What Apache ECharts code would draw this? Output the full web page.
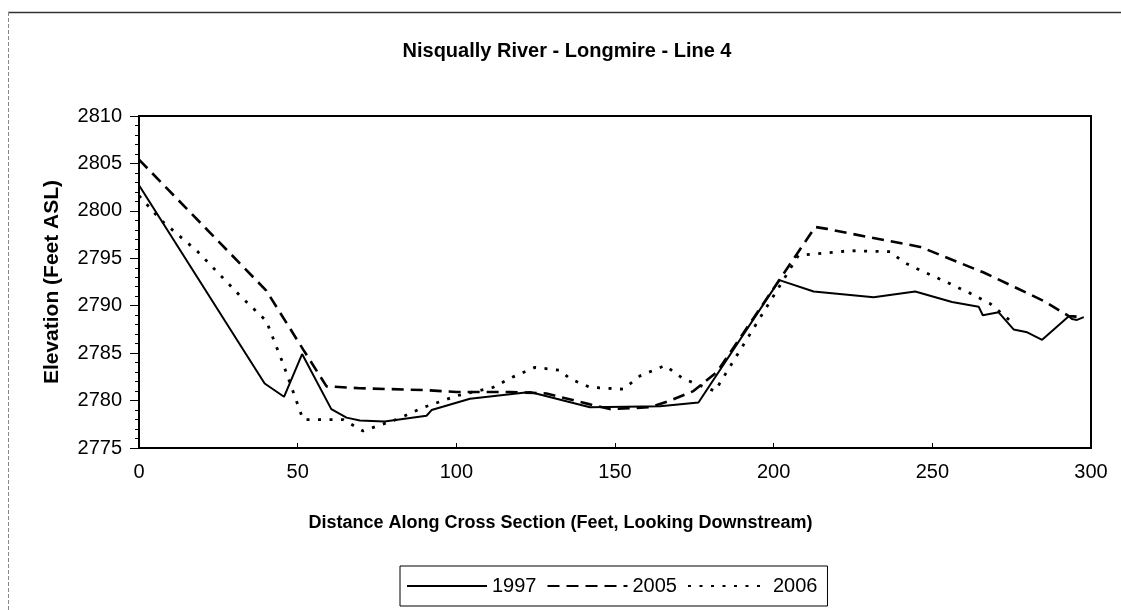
<!DOCTYPE html>
<html>
<head>
<meta charset="utf-8">
<script src="https://cdn.jsdelivr.net/npm/echarts@6/dist/echarts.min.js"></script>
<style>
html,body{margin:0;padding:0;background:#fff;}
#chart{width:1121px;height:610px;}
</style>
</head>
<body>
<div id="chart"></div>
<script>
const title = 'Nisqually River - Longmire - Line 4';
const xAxisName = 'Distance Along Cross Section (Feet, Looking Downstream)';
const yAxisName = 'Elevation (Feet ASL)';
const seriesNames = ['1997', '2005', '2006'];

const x1997 = [0, 30.7, 39.6, 45.7, 51.4, 60.6, 65.4, 69.6, 77.4, 90.6, 92.2, 104.3, 123.2, 142.1, 164.2, 176.3, 201.8, 212.6, 231.5, 244.6, 256.2, 264.6, 265.9, 270.9, 275.6, 279.9, 284.6, 293.0, 294.0, 295.6, 297.7];
const y1997 = [2802.7, 2786.5, 2781.8, 2780.4, 2784.9, 2779.1, 2778.2, 2777.9, 2777.8, 2778.4, 2779.0, 2780.2, 2780.9, 2779.3, 2779.4, 2779.8, 2792.7, 2791.5, 2790.9, 2791.5, 2790.4, 2789.9, 2789.0, 2789.3, 2787.5, 2787.2, 2786.4, 2788.9, 2788.6, 2788.5, 2788.8];

const x2005 = [0, 40.1, 51.7, 59.1, 69.6, 90.6, 100.1, 116.9, 128.4, 142.1, 148.4, 161.0, 167.4, 174.7, 182.1, 213.1, 216.8, 230.4, 246.2, 266.2, 285.1, 293.0, 297.7];
const y2005 = [2805.4, 2791.6, 2785.4, 2781.5, 2781.3, 2781.1, 2780.9, 2780.9, 2780.75, 2779.6, 2779.1, 2779.3, 2780.0, 2781.0, 2783.0, 2798.3, 2798.1, 2797.2, 2796.2, 2793.5, 2790.5, 2788.9, 2788.8];

const x2006 = [0, 7.0, 18.5, 31.7, 40.1, 45.4, 51.7, 64.3, 70.6, 81.1, 89.0, 100.1, 111.6, 117.9, 124.8, 132.6, 135.8, 142.1, 152.6, 157.9, 165.8, 171.5, 176.8, 181.5, 207.8, 224.1, 236.7, 240.9, 245.2, 255.7, 262.0, 268.3, 274.6];
const y2006 = [2801.6, 2799.0, 2795.7, 2791.1, 2788.4, 2783.9, 2778.0, 2778.0, 2776.8, 2778.0, 2779.2, 2780.5, 2781.4, 2782.5, 2783.5, 2783.2, 2782.3, 2781.4, 2781.2, 2782.6, 2783.7, 2782.3, 2781.6, 2781.0, 2795.3, 2795.8, 2795.7, 2794.6, 2793.9, 2792.3, 2791.3, 2790.2, 2788.4];

const xMin = 0, xMax = 300, xStep = 50;
const yMin = 2775, yMax = 2810, yStep = 5;

function zip(xs, ys) { return xs.map((x, i) => [x, ys[i]]); }

const font = '"Liberation Sans", Arial, sans-serif';
const chart = echarts.init(document.getElementById('chart'), null, {renderer: 'canvas'});

const lineStyles = [
  {color: '#000', width: 2, type: 'solid'},
  {color: '#000', width: 2.6, type: [12, 7]},
  {color: '#000', width: 2.8, type: [3, 8.5]}
];
const dataSets = [zip(x1997, y1997), zip(x2005, y2005), zip(x2006, y2006)];

chart.setOption({
  animation: false,
  backgroundColor: '#fff',
  title: {
    text: title,
    left: 562, top: 36, textAlign: 'center',
    textStyle: {fontFamily: font, fontSize: 20, fontWeight: 'bold', color: '#000'}
  },
  grid: {left: 139, right: 30, top: 116, bottom: 162, show: true, borderColor: '#000', borderWidth: 2, backgroundColor: 'transparent'},
  legend: {
    data: seriesNames,
    left: 400, top: 566,
    itemWidth: 80, itemHeight: 14, itemGap: 10,
    padding: [10, 10, 10, 6],
    borderColor: '#000', borderWidth: 1,
    itemStyle: {opacity: 0},
    textStyle: {fontFamily: font, fontSize: 20, color: '#000'}
  },
  xAxis: {
    type: 'value', min: xMin, max: xMax, interval: xStep,
    axisLine: {lineStyle: {color: '#000', width: 2}},
    axisTick: {inside: true, length: 5, lineStyle: {color: '#000', width: 1}},
    axisLabel: {fontFamily: font, fontSize: 20, color: '#000', margin: 14},
    splitLine: {show: false}
  },
  yAxis: {
    type: 'value', min: yMin, max: yMax, interval: yStep,
    name: yAxisName, nameLocation: 'middle', nameGap: 76,
    nameTextStyle: {fontFamily: font, fontSize: 21, fontWeight: 'bold', color: '#000'},
    axisLine: {show: true, lineStyle: {color: '#000', width: 2}},
    axisTick: {show: true, inside: false, length: 9, lineStyle: {color: '#000', width: 1}},
    minorTick: {show: true, splitNumber: 5, length: 4, lineStyle: {color: '#000', width: 1}},
    axisLabel: {fontFamily: font, fontSize: 20, color: '#000', margin: 17, formatter: v => String(v)},
    splitLine: {show: false}
  },
  graphic: [
    {type: 'line', shape: {x1: 8, y1: 12.5, x2: 1121, y2: 12.5}, style: {stroke: '#333', lineWidth: 1.5}, silent: true},
    {type: 'line', shape: {x1: 8.5, y1: 12, x2: 8.5, y2: 610}, style: {stroke: '#888', lineWidth: 1, lineDash: [4, 2]}, silent: true},
    {type: 'text', left: 'center', top: 514, style: {text: xAxisName, x: 0, font: 'bold 18px "Liberation Sans", Arial, sans-serif', fill: '#000'}, silent: true}
  ],
  series: seriesNames.map((n, i) => ({
    name: n, type: 'line', data: dataSets[i],
    symbol: 'none', showSymbol: false,
    lineStyle: lineStyles[i], itemStyle: {color: '#000'},
    z: 3 - i
  }))
});
</script>
</body>
</html>
